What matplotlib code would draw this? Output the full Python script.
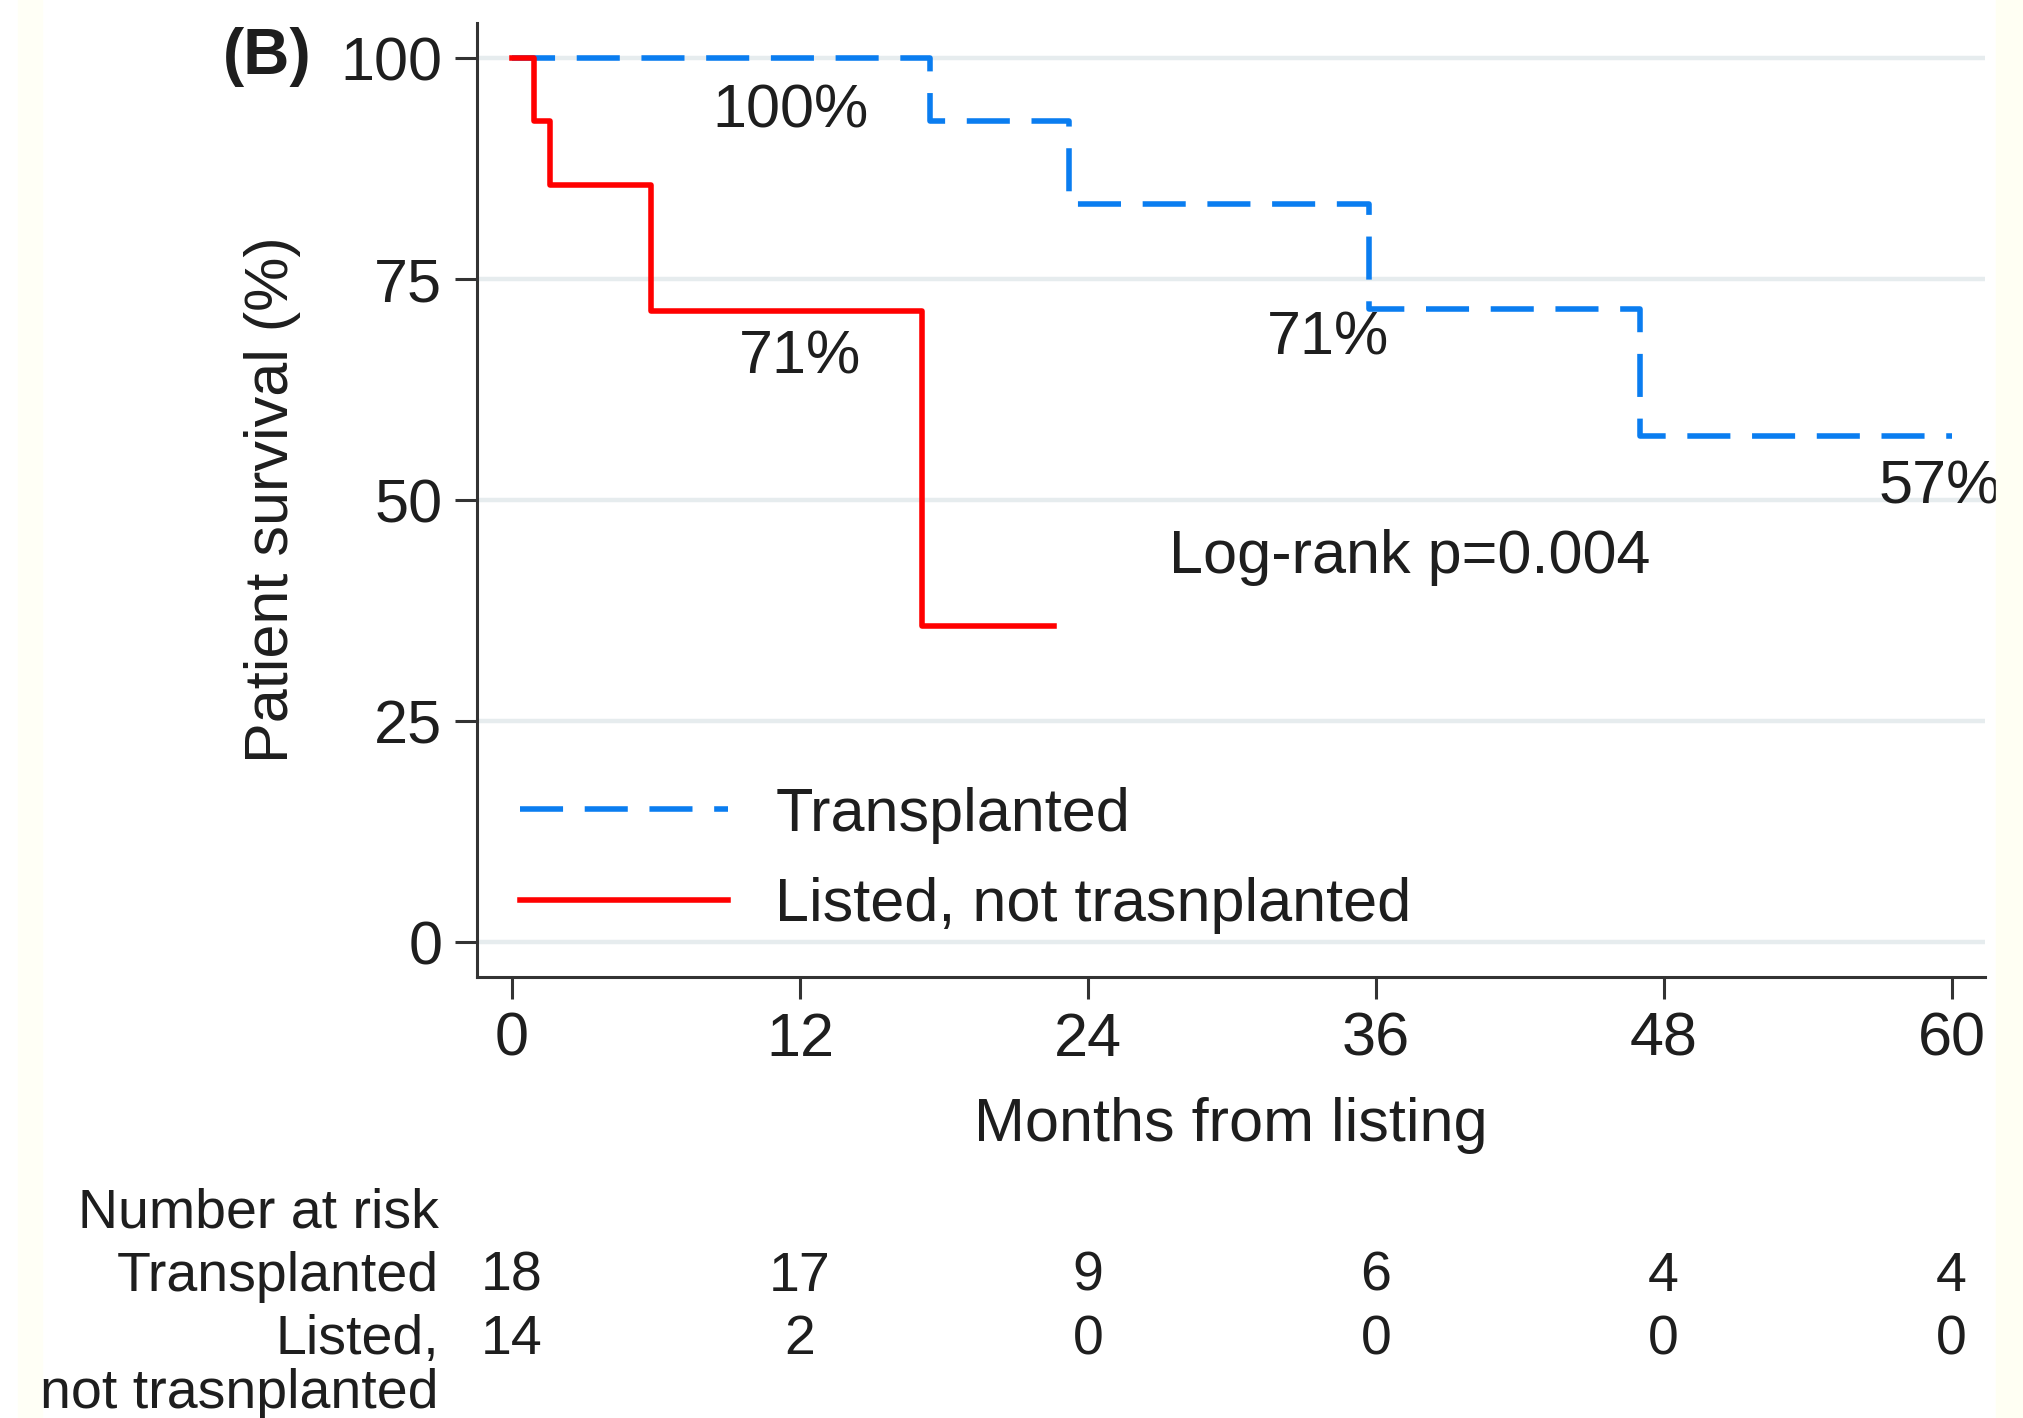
import matplotlib.pyplot as plt
from matplotlib.lines import Line2D
from matplotlib.patches import Rectangle
from matplotlib.transforms import blended_transform_factory

plt.rcParams['font.family'] = ['Liberation Sans', 'DejaVu Sans']

# Kaplan-Meier step curves (months from listing, survival %)
tx_time = [0, 17.4, 23.2, 35.7, 47.0, 60.0]
tx_surv = [100, 92.86, 83.57, 71.63, 57.30, 57.30]
ls_time = [0, 0.9, 1.6, 5.8, 17.1, 22.6]
ls_surv = [100, 92.86, 85.71, 71.43, 35.71, 35.71]

# survival estimates written next to the curves
pct_labels = ["100%", "71%", "71%", "57%"]
pct_x = [11.6, 12.0, 34.0, 59.5]
pct_y = [93.9, 66.1, 68.2, 51.4]

# number at risk table
risk_times = [0, 12, 24, 36, 48, 60]
risk_tx = [18, 17, 9, 6, 4, 4]
risk_ls = [14, 2, 0, 0, 0, 0]

blue = '#0a7df0'
red = '#ff0000'
ink = '#1e1e1e'
fs = 44
fs_tab = 40
lw = 4.0

fig = plt.figure(figsize=(20.24, 14.18), dpi=100)
fig.patches.append(Rectangle((1996 / 2024, 0), 28 / 2024, 1, transform=fig.transFigure,
                             color='#fffff3', zorder=0))
fig.patches.append(Rectangle((18 / 2024, 0), 24 / 2024, 1, transform=fig.transFigure,
                             color='#fffff6', zorder=0))
ax = fig.add_axes([0.2357, 0.311, 0.7451, 0.6728])

dash = (0, (7.75, 3.9))
ax.plot(tx_time, tx_surv, drawstyle='steps-post', color=blue, lw=lw,
        linestyle=dash, zorder=3)
ax.plot(ls_time, ls_surv, drawstyle='steps-post', color=red, lw=lw, zorder=4)

for lab, x, y in zip(pct_labels, pct_x, pct_y):
    ax.text(x, y, lab, ha='center', va='center', fontsize=fs, color=ink)
ax.text(37.4, 43.5, "Log-rank p=0.004", ha='center', va='center', fontsize=fs, color=ink)

# axes styling
ax.set_xlim(-1.46, 61.4)
ax.set_ylim(-3.96, 104)
ax.set_xticks(risk_times)
ax.set_yticks([0, 25, 50, 75, 100])
for s in ['top', 'right']:
    ax.spines[s].set_visible(False)
for s in ['left', 'bottom']:
    ax.spines[s].set_linewidth(2.2)
    ax.spines[s].set_color('#333333')
ax.tick_params(length=16, width=2.2, color='#333333', labelsize=44,
               labelcolor=ink, pad=9)
ax.yaxis.grid(True, color='#e6ecee', lw=3.2)
ax.set_axisbelow(True)
ax.set_xlabel("Months from listing", fontsize=fs, color=ink, labelpad=20)
ax.set_ylabel("Patient survival (%)", fontsize=fs, color=ink, labelpad=28)

handles = [Line2D([], [], color=blue, lw=lw, linestyle=dash),
           Line2D([], [], color=red, lw=lw)]
ax.legend(handles, ["Transplanted", "Listed, not trasnplanted"], loc='center left',
          bbox_to_anchor=(0.0285, 0.122), frameon=False, fontsize=fs,
          handlelength=3.41, handletextpad=0.77, labelspacing=0.55,
          borderpad=0, borderaxespad=0, labelcolor=ink)

fig.text(0.110, 0.960, "(B)", fontsize=46, fontweight='bold', va='center', ha='left',
         color=ink)

# number at risk below the plot
trans = blended_transform_factory(ax.transData, fig.transFigure)
lx = 439 / 2024
fig.text(lx, 0.144, "Number at risk", ha='right', va='center', fontsize=fs_tab, color=ink)
fig.text(lx, 0.0995, "Transplanted", ha='right', va='center', fontsize=fs_tab, color=ink)
fig.text(lx, 0.055, "Listed,", ha='right', va='center', fontsize=fs_tab, color=ink)
fig.text(lx, 0.017, "not trasnplanted", ha='right', va='center', fontsize=fs_tab, color=ink)
for t, a, b in zip(risk_times, risk_tx, risk_ls):
    ax.text(t, 0.0995, str(a), transform=trans, ha='center', va='center',
            fontsize=fs_tab, color=ink)
    ax.text(t, 0.055, str(b), transform=trans, ha='center', va='center',
            fontsize=fs_tab, color=ink)

fig.savefig('out.png', dpi=100)
